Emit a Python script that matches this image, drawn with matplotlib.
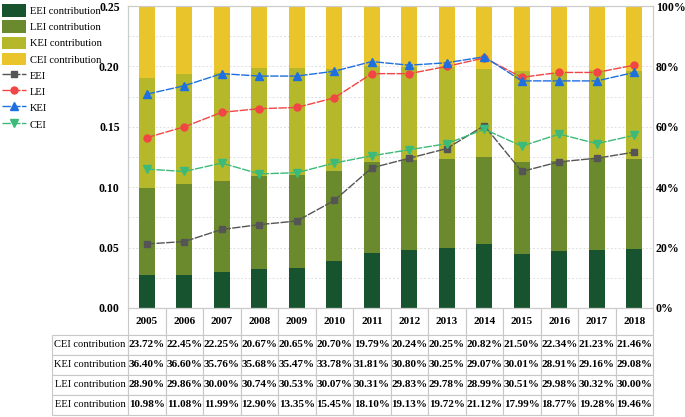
import numpy as np
import matplotlib
matplotlib.use('Agg')
import matplotlib.pyplot as plt

plt.rcParams['font.family'] = ['Liberation Serif', 'DejaVu Serif']

years = ['2005', '2006', '2007', '2008', '2009', '2010', '2011',
         '2012', '2013', '2014', '2015', '2016', '2017', '2018']

# contribution shares (%)
cei_contrib = [23.72, 22.45, 22.25, 20.67, 20.65, 20.70, 19.79, 20.24, 20.25, 20.82, 21.50, 22.34, 21.23, 21.46]
kei_contrib = [36.40, 36.60, 35.76, 35.68, 35.47, 33.78, 31.81, 30.80, 30.25, 29.07, 30.01, 28.91, 29.16, 29.08]
lei_contrib = [28.90, 29.86, 30.00, 30.74, 30.53, 30.07, 30.31, 29.83, 29.78, 28.99, 30.51, 29.98, 30.32, 30.00]
eei_contrib = [10.98, 11.08, 11.99, 12.90, 13.35, 15.45, 18.10, 19.13, 19.72, 21.12, 17.99, 18.77, 19.28, 19.46]

# efficiency indices (left axis)
eei = [0.053, 0.055, 0.065, 0.069, 0.072, 0.089, 0.116, 0.124, 0.132, 0.151, 0.113, 0.121, 0.124, 0.129]
lei = [0.141, 0.150, 0.162, 0.165, 0.166, 0.174, 0.194, 0.194, 0.200, 0.207, 0.191, 0.195, 0.195, 0.201]
kei = [0.177, 0.184, 0.194, 0.192, 0.192, 0.196, 0.204, 0.201, 0.203, 0.208, 0.188, 0.188, 0.188, 0.195]
cei = [0.115, 0.113, 0.120, 0.111, 0.112, 0.120, 0.126, 0.131, 0.136, 0.148, 0.134, 0.144, 0.136, 0.143]

x = np.arange(len(years))

fig = plt.figure(figsize=(6.85, 4.17), dpi=100)
ax = fig.add_axes([0.1869, 0.2614, 0.7664, 0.7242])
ax2 = ax.twinx()
ax.set_zorder(ax2.get_zorder() + 1)
ax.patch.set_visible(False)

# stacked bars on the percent axis
colors = ['#16532e', '#6b8a2e', '#b5b82b', '#e9c42b']
bw = 0.43
b1 = ax2.bar(x, eei_contrib, bw, color=colors[0], label='EEI contribution')
b2 = ax2.bar(x, lei_contrib, bw, bottom=eei_contrib, color=colors[1], label='LEI contribution')
bot3 = np.array(eei_contrib) + np.array(lei_contrib)
b3 = ax2.bar(x, kei_contrib, bw, bottom=bot3, color=colors[2], label='KEI contribution')
bot4 = bot3 + np.array(kei_contrib)
b4 = ax2.bar(x, cei_contrib, bw, bottom=bot4, color=colors[3], label='CEI contribution')

ax2.set_ylim(0, 100)
ax2.set_yticks([0, 20, 40, 60, 80, 100])
ax2.set_yticklabels(['0%', '20%', '40%', '60%', '80%', '100%'], fontweight='bold', fontsize=8.5)
ax2.set_yticks(np.arange(10, 100, 10), minor=True)
ax2.grid(True, which='both', axis='y', color='#dedede', linestyle=(0, (2, 2)), linewidth=0.7)
ax2.set_axisbelow(True)
ax2.tick_params(axis='y', which='both', length=0, pad=2)

# lines on the index axis
ds = (0, (6, 1))
l1, = ax.plot(x, eei, color='#555555', marker='s', markersize=4.5, lw=1, linestyle=ds, label='EEI')
l2, = ax.plot(x, lei, color='#f24545', marker='o', markersize=5, lw=1, linestyle=ds, label='LEI')
l3, = ax.plot(x, kei, color='#1e6fe0', marker='^', markersize=5.5, lw=1, linestyle=ds, label='KEI')
l4, = ax.plot(x, cei, color='#3cba7a', marker='v', markersize=5.5, lw=1, linestyle=ds, label='CEI')

ax.set_xlim(-0.5, len(years) - 0.5)
ax.set_ylim(0, 0.25)
ax.set_yticks([0, 0.05, 0.10, 0.15, 0.20, 0.25])
ax.set_yticklabels(['0.00', '0.05', '0.10', '0.15', '0.20', '0.25'], fontweight='bold', fontsize=8.5)
ax.tick_params(axis='y', length=0, pad=6)
ax.set_xticks([])
for a in (ax, ax2):
    for s in a.spines.values():
        s.set_color('#cccccc')
        s.set_linewidth(0.8)

# table below the plot
rows = ['CEI contribution', 'KEI contribution', 'LEI contribution', 'EEI contribution']
vals = [cei_contrib, kei_contrib, lei_contrib, eei_contrib]
cell_text = [[''] + years]
for name, v in zip(rows, vals):
    cell_text.append([name] + ['{0:.2f}%'.format(p) for p in v])

lab_w = 76.0 / 525.0
col_w = 1.0 / len(years)
tbl = ax.table(cellText=cell_text, colWidths=[lab_w] + [col_w] * len(years),
               cellLoc='center', bbox=[-lab_w, -0.354, 1 + lab_w, 0.354])
tbl.auto_set_font_size(False)
tbl.set_fontsize(8)
for (r, c), cell in tbl.get_celld().items():
    cell.set_edgecolor('#c8c8c8')
    cell.set_linewidth(0.8)
    cell.set_height(27 if r == 0 else 20)
    cell.PAD = 0.02
    if r == 0 and c == 0:
        cell.visible_edges = ''
    if c > 0:
        cell.get_text().set_fontweight('bold')
    else:
        cell.get_text().set_fontsize(7.6)

handles = [b1, b2, b3, b4, l1, l2, l3, l4]
labels = [h.get_label() for h in handles]
fig.legend(handles, labels, loc='upper left', bbox_to_anchor=(0.0, 0.995), frameon=False,
           fontsize=7.6, handlelength=2.3, handleheight=1.45, labelspacing=0.35,
           borderaxespad=0.1, borderpad=0.1, handletextpad=0.3)

fig.savefig('out.png', dpi=100)
